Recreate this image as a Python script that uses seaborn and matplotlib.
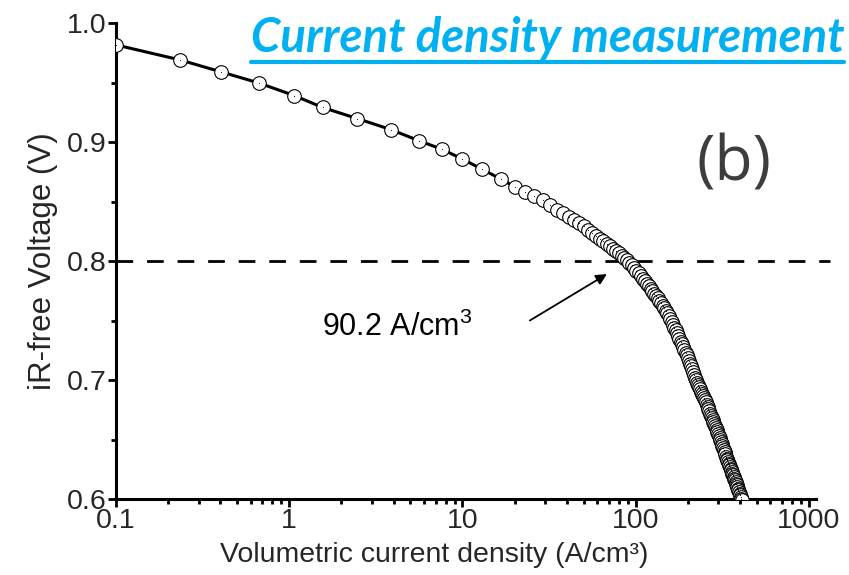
import numpy as np
import pandas as pd
import matplotlib
matplotlib.use("Agg")
import matplotlib.pyplot as plt
from matplotlib.ticker import FixedLocator, LogLocator, NullFormatter, FixedFormatter
from matplotlib.lines import Line2D
import seaborn as sns

# Polarization data: volumetric current density (A/cm^3) and iR-free voltage (V)
current_density = [
    0.1, 0.234, 0.403, 0.671, 1.07, 1.56, 2.47, 3.85, 5.63, 7.58, 9.9, 13.0, 16.6,
    20, 23, 26, 29, 32, 35, 38, 41, 44, 47, 50, 53, 56, 59, 62, 65, 68, 71, 74, 77,
    80, 83, 86, 89, 92, 95, 98, 101, 104, 107, 110, 113, 116, 119, 122, 125, 128,
    131, 134, 137, 140, 143, 146, 149, 152, 155, 158, 161, 164, 167, 170, 173, 176,
    179, 182, 185, 188, 191, 194, 197, 200, 203, 206, 209, 212, 215, 218, 221, 224,
    227, 230, 233, 236, 239, 242, 245, 248, 251, 254, 257, 260, 263, 266, 269, 272,
    275, 278, 281, 284, 287, 290, 293, 296, 299, 302, 305, 308, 311, 314, 317, 320,
    323, 326, 329, 332, 335, 338, 341, 344, 347, 350, 353, 356, 359, 362, 365, 368,
    371, 374, 377, 380, 383, 386, 389, 392, 395, 398, 401, 404, 407, 410,
]
voltage = [
    0.9816, 0.969, 0.959, 0.9495, 0.939, 0.929, 0.9197, 0.9105, 0.901, 0.894, 0.886,
    0.877, 0.869,
    0.8625, 0.8584, 0.8549, 0.8512, 0.8474, 0.8431, 0.8400, 0.8373, 0.8346, 0.8318,
    0.8290, 0.8262, 0.8237, 0.8212, 0.8187, 0.8165, 0.8144, 0.8123, 0.8101, 0.8083,
    0.8064, 0.8045, 0.8026, 0.8008, 0.7986, 0.7964, 0.7941, 0.7918, 0.7895, 0.7873,
    0.7852, 0.7831, 0.7810, 0.7789, 0.7768, 0.7747, 0.7726, 0.7706, 0.7686, 0.7665,
    0.7645, 0.7624, 0.7604, 0.7584, 0.7562, 0.7538, 0.7513, 0.7489, 0.7465, 0.7440,
    0.7416, 0.7392, 0.7369, 0.7346, 0.7323, 0.7299, 0.7276, 0.7253, 0.7230, 0.7207,
    0.7183, 0.7160, 0.7137, 0.7114, 0.7091, 0.7067, 0.7044, 0.7021, 0.6998, 0.6978,
    0.6959, 0.6941, 0.6922, 0.6903, 0.6885, 0.6866, 0.6848, 0.6829, 0.6811, 0.6792,
    0.6774, 0.6755, 0.6737, 0.6718, 0.6699, 0.6681, 0.6662, 0.6644, 0.6627, 0.6611,
    0.6594, 0.6577, 0.6560, 0.6543, 0.6526, 0.6509, 0.6492, 0.6475, 0.6458, 0.6442,
    0.6425, 0.6408, 0.6391, 0.6374, 0.6357, 0.6340, 0.6326, 0.6312, 0.6298, 0.6284,
    0.6270, 0.6256, 0.6242, 0.6228, 0.6214, 0.6200, 0.6186, 0.6172, 0.6158, 0.6144,
    0.6130, 0.6116, 0.6102, 0.6088, 0.6074, 0.6060, 0.6046, 0.6032, 0.6018, 0.6004,
    0.5990,
]

x_ticks = [0.1, 1, 10, 100, 1000]
x_tick_labels = ["0.1", "1", "10", "100", "1000"]
y_ticks = [0.6, 0.7, 0.8, 0.9, 1.0]
y_tick_labels = ["0.6", "0.7", "0.8", "0.9", "1.0"]

target_voltage = 0.8
target_current = 90.2
title_text = "Current density measurement"
panel_label = "(b)"

df = pd.DataFrame({"j": current_density, "v": voltage})

sns.set_style("ticks")
plt.rcParams["font.family"] = ["Liberation Sans", "DejaVu Sans"]
plt.rcParams["mathtext.fontset"] = "custom"
plt.rcParams["mathtext.rm"] = "Liberation Sans"
plt.rcParams["mathtext.it"] = "Liberation Sans"

fig = plt.figure(figsize=(8.49, 5.75), dpi=100)
ax = fig.add_axes([0.1366, 1 - 499 / 575, 0.961 - 0.1366, 0.96 - (1 - 499 / 575)])

sns.lineplot(data=df, x="j", y="v", ax=ax, color="black", linewidth=2.2,
             marker="o", markersize=9.8, markerfacecolor="white",
             markeredgecolor="black", markeredgewidth=0.8, sort=False, zorder=3)
sns.scatterplot(data=df, x="j", y="v", ax=ax, color="black", s=0.6,
                linewidth=0, zorder=4, legend=False)

ax.set_xscale("log")
ax.set_xlim(0.1, 1097)
ax.set_ylim(0.6, 1.0)

ax.xaxis.set_major_locator(FixedLocator(x_ticks))
ax.xaxis.set_major_formatter(FixedFormatter(x_tick_labels))
ax.xaxis.set_minor_locator(LogLocator(base=10, subs=np.arange(2, 10)))
ax.xaxis.set_minor_formatter(NullFormatter())
ax.yaxis.set_major_locator(FixedLocator(y_ticks))
ax.yaxis.set_major_formatter(FixedFormatter(y_tick_labels))
ax.yaxis.set_minor_locator(FixedLocator([0.65, 0.75, 0.85, 0.95]))

for side in ["top", "right"]:
    ax.spines[side].set_visible(False)
for side in ["left", "bottom"]:
    ax.spines[side].set_linewidth(2.2)
    ax.spines[side].set_color("black")
ax.tick_params(which="major", direction="out", length=6, width=2.0,
               labelsize=20.5, color="black", pad=1)
ax.tick_params(axis="x", which="major", pad=0.3)
ax.tick_params(which="minor", direction="out", length=3.5, width=2.0, color="black")

ax.set_xlabel("Volumetric current density (A/cm³)", fontsize=20.5, va="top")
ax.xaxis.set_label_coords(0.455, -0.090)
ax.set_ylabel("iR-free Voltage (V)", fontsize=22.5, labelpad=6)

# Reference level at 0.8 V
ax.axhline(target_voltage, xmin=0, xmax=1.02, color="black", linewidth=2.0,
           dashes=(6, 5), clip_on=False, zorder=2)

# Arrow pointing at the 0.8 V crossing
ax.annotate("", xy=(68.2, 0.789), xytext=(24.5, 0.750),
            arrowprops=dict(arrowstyle="-|>", color="black", lw=1.3,
                            mutation_scale=16, shrinkA=0, shrinkB=0))
ax.text(1.55, 0.744, f"{target_current} A/cm$^{{3}}$", fontsize=22, ha="left",
        va="center", color="black")

# Panel label
fig.text(0.864, 0.715, panel_label, fontsize=45, color="#3d3d3d",
         family=["Open Sans", "DejaVu Sans"], ha="center", va="center")

# Headline with underline
t = fig.text(0.9945, 1 - 52 / 575, title_text, fontsize=34, color="#00B0F0",
             family=["Lato", "DejaVu Sans"], fontweight="bold", style="italic",
             ha="right", va="baseline")
fig.canvas.draw()
bb = t.get_window_extent()
inv = fig.transFigure.inverted()
(x0, _), (x1, _) = inv.transform([(bb.x0, bb.y0), (bb.x1, bb.y1)])
fig.add_artist(Line2D([x0, x1], [1 - 62 / 575, 1 - 62 / 575], color="#00B0F0",
                      linewidth=3.0, transform=fig.transFigure))

fig.savefig("out.png", dpi=100)
